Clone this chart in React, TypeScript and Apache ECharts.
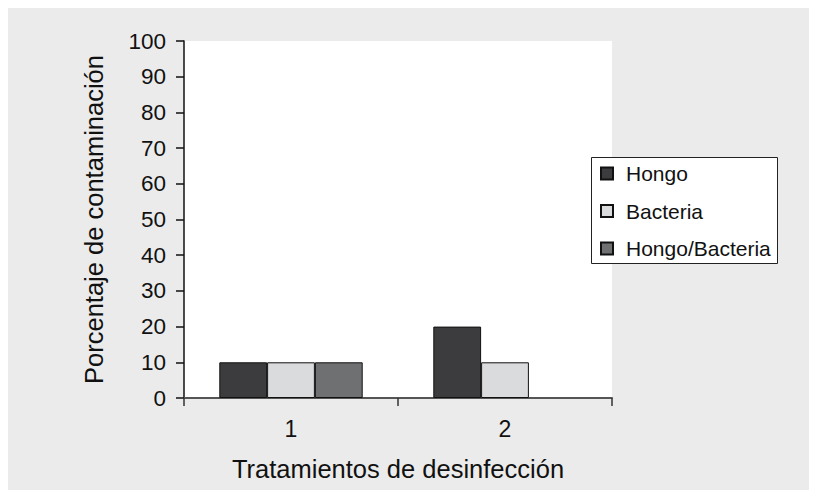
import React, { useEffect, useRef } from "react";
import * as echarts from "echarts";

const categories = ["1", "2"];
const hongo = [10, 20];
const bacteria = [10, 10];
const hongoBacteria = [10, null];
const seriesNames = ["Hongo", "Bacteria", "Hongo/Bacteria"];
const seriesColors = ["#3c3c3e", "#dadbdd", "#6f7071"];

const FONT = "Liberation Sans, Arial, sans-serif";

export default function App() {
  const ref = useRef<HTMLDivElement>(null);
  useEffect(() => {
    if (!ref.current) return;
    const chart = echarts.init(ref.current, undefined, { renderer: "svg" });
    const values = [hongo, bacteria, hongoBacteria];
    chart.setOption({
      animation: false,
      backgroundColor: "#ebebeb",
      textStyle: { fontFamily: FONT },
      grid: { left: 176, top: 33, width: 428, height: 357, backgroundColor: "#ffffff", show: true, borderWidth: 0 },
      graphic: [
        {
          type: "rect",
          z: 0,
          shape: { x: 583.5, y: 149.5, width: 186, height: 106 },
          style: { fill: "#ffffff", stroke: "#222222", lineWidth: 1 },
        },
      ],
      legend: {
        z: 10,
        orient: "vertical",
        left: 592,
        top: 155,
        itemWidth: 12,
        itemHeight: 12,
        itemGap: 16.5,
        icon: "rect",
        padding: 0,
        textStyle: { fontSize: 21, color: "#111111", fontFamily: FONT, lineHeight: 20, padding: [0, 0, 0, 8] },
        data: seriesNames,
      },
      xAxis: {
        type: "category",
        data: categories,
        name: "Tratamientos de desinfección",
        nameLocation: "middle",
        nameGap: 58,
        nameTextStyle: { fontSize: 25.5, color: "#111111", fontFamily: FONT },
        axisLine: { lineStyle: { color: "#555555", width: 2 } },
        axisTick: { show: true, length: 8, lineStyle: { color: "#333333", width: 1.5 } },
        axisLabel: { fontSize: 23, color: "#111111", margin: 19, fontFamily: FONT },
      },
      yAxis: {
        type: "value",
        min: 0,
        max: 100,
        interval: 10,
        name: "Porcentaje de contaminación",
        nameLocation: "middle",
        nameGap: 77,
        nameTextStyle: { fontSize: 25.5, color: "#111111", fontFamily: FONT },
        axisLine: { show: true, lineStyle: { color: "#111111", width: 1.5 } },
        axisTick: { show: true, length: 8, lineStyle: { color: "#111111", width: 1.5 } },
        axisLabel: { fontSize: 22.5, color: "#111111", margin: 18, fontFamily: FONT },
        splitLine: { show: false },
      },
      series: seriesNames.map((name, i) => ({
        name,
        type: "bar",
        data: values[i],
        barGap: "0%",
        barCategoryGap: "33%",
        itemStyle: { color: seriesColors[i], borderColor: "#111111", borderWidth: 1 },
      })),
    });
    return () => chart.dispose();
  }, []);
  return <div ref={ref} style={{ width: 804, height: 482 }} />;
}
